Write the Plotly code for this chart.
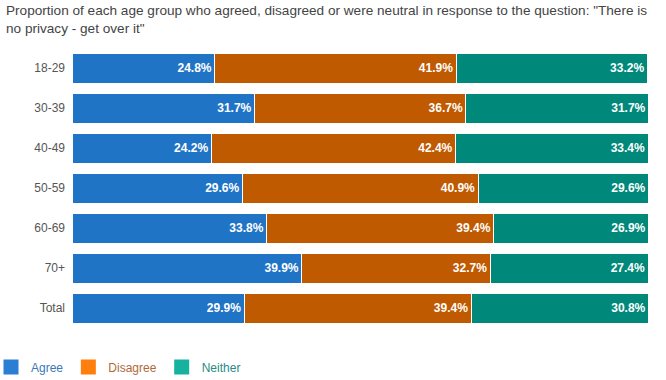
import plotly.graph_objects as go

categories = ["18-29", "30-39", "40-49", "50-59", "60-69", "70+", "Total"]
agree = [24.8, 31.7, 24.2, 29.6, 33.8, 39.9, 29.9]
disagree = [41.9, 36.7, 42.4, 40.9, 39.4, 32.7, 39.4]
neither = [33.2, 31.7, 33.4, 29.6, 26.9, 27.4, 30.8]

series = [
    ("Agree", agree, "#1f74c6", "#2a7fd4", "#3a78b8"),
    ("Disagree", disagree, "#c05a00", "#ff7f0e", "#b06a3a"),
    ("Neither", neither, "#00887a", "#17b1a0", "#2a8a86"),
]

fig = go.Figure()
for name, vals, col, lcol, tcol in series:
    fig.add_trace(go.Bar(
        y=categories, x=vals, orientation="h", name=name,
        marker=dict(color=col, line=dict(color="white", width=1)),
        texttemplate="<b>%{x:.1f}%</b>", textposition="inside",
        insidetextanchor="end", textangle=0,
        textfont=dict(color="white", size=12, family="Liberation Sans, Arial"),
        showlegend=False, hoverinfo="skip",
    ))
for name, vals, col, lcol, tcol in series:
    fig.add_trace(go.Scatter(
        x=[None], y=[None], mode="markers",
        marker=dict(symbol="square", size=15, color=lcol),
        name=f'<span style="color:{tcol}">{name}</span>',
        showlegend=True,
    ))

fig.add_annotation(
    text='Proportion of each age group who agreed, disagreed or were neutral in response to the question: "There is<br>no privacy - get over it"',
    xref="paper", yref="paper", x=-72/576 + 4/576, y=1 + 47/280,
    xanchor="left", yanchor="top", align="left", showarrow=False,
    font=dict(size=13.6, color="#444", family="Liberation Sans, Arial"),
)

fig.update_layout(
    width=666, height=380,
    barmode="stack", bargap=0.25,
    margin=dict(l=72, r=18, t=48, b=52, autoexpand=False),
    paper_bgcolor="white", plot_bgcolor="white",
    font=dict(family="Liberation Sans, Arial", size=12, color="#555"),
    xaxis=dict(range=[0, 100], visible=False, showgrid=False, zeroline=False),
    yaxis=dict(autorange="reversed", showgrid=False, zeroline=False,
               ticks="", ticklabelstandoff=6, automargin=False,
               tickfont=dict(size=12, color="#555")),
    legend=dict(orientation="h", xref="paper", yref="container",
                x=-81/576, xanchor="left", y=13/380, yanchor="middle",
                traceorder="normal",
                font=dict(size=12), itemwidth=30, tracegroupgap=0),
)

fig.write_html("out.html", config={"displayModeBar": False},
               post_script="document.body.style.margin='0';")
